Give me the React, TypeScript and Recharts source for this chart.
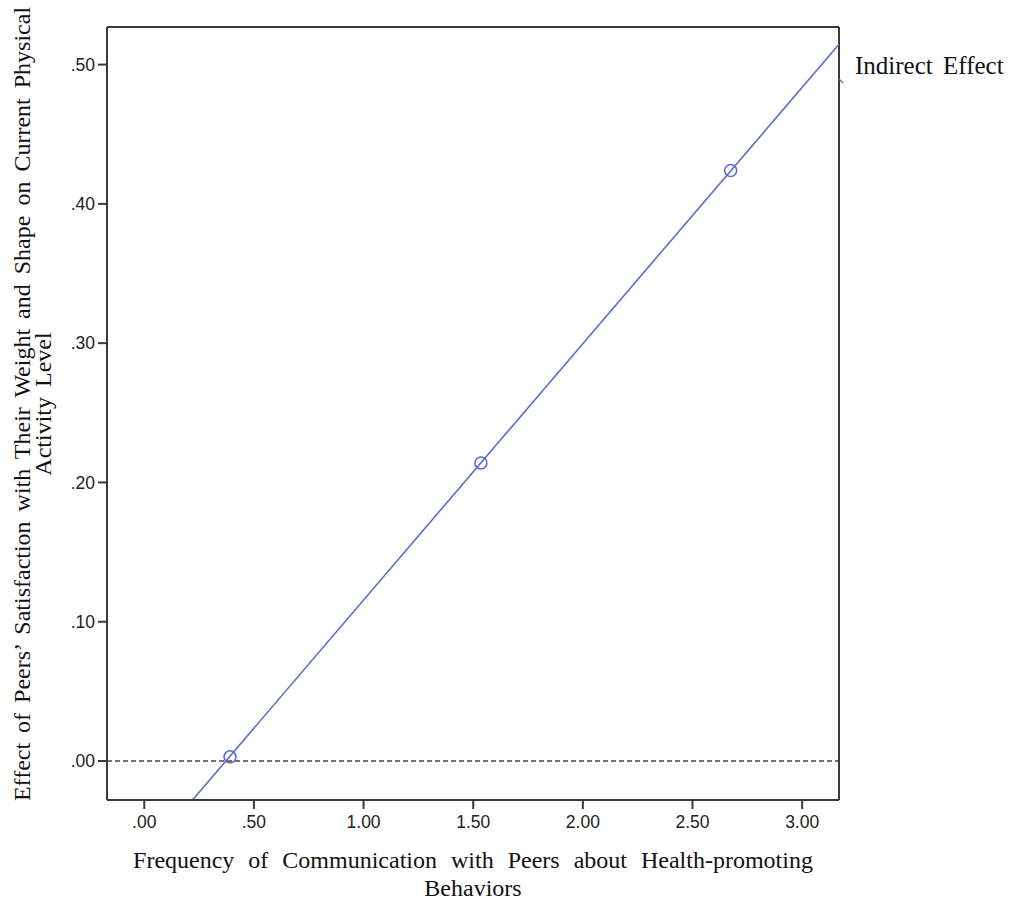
import {
  ComposedChart,
  Line,
  Scatter,
  XAxis,
  YAxis,
  ReferenceLine,
  Label,
} from "recharts";

// regression line endpoints, read where it leaves the frame
const lineX = [0.22, 3.17];
const lineY = [-0.028, 0.515];

// circled points on the line
const pointX = [0.391, 1.535, 2.674];
const pointY = [0.003, 0.214, 0.424];

const xTicks = [0, 0.5, 1, 1.5, 2, 2.5, 3];
const yTicks = [0, 0.1, 0.2, 0.3, 0.4, 0.5];

const xTitle = ["Frequency of Communication with Peers about Health-promoting", "Behaviors"];
const yTitle = ["Effect of Peers\u2019 Satisfaction with Their Weight and Shape on Current Physical", "Activity Level"];
const seriesName = "Indirect Effect";

const lineData = lineX.map((x, i) => ({ x, y: lineY[i] }));
const pointData = pointX.map((x, i) => ({ x, y: pointY[i] }));

const X_DOMAIN = [-0.17, 3.168];
const Y_DOMAIN = [-0.028, 0.527];

const BLUE = "#5a6fc6";
const AXIS = "#3a3a3a";
const SERIF = "'Liberation Serif', 'Times New Roman', serif";

const fmt = (v: number) => {
  const s = v.toFixed(2);
  return s.startsWith("0") ? s.slice(1) : s;
};

const tickStyle = { fill: "#222", fontSize: 17.5, fontFamily: "'Liberation Sans', Arial, sans-serif" };

function XTitle(props: any) {
  const { viewBox } = props;
  const cx = viewBox.x + viewBox.width / 2;
  return (
    <text textAnchor="middle" fontFamily={SERIF} fontSize={24} fill="#111" wordSpacing={8}>
      <tspan x={cx} y={868}>{xTitle[0]}</tspan>
      <tspan x={cx} y={896}>{xTitle[1]}</tspan>
    </text>
  );
}

function YTitle() {
  return (
    <text
      transform="translate(30, 404) rotate(-90)"
      textAnchor="middle"
      fontFamily={SERIF}
      fontSize={24}
      fill="#111"
      wordSpacing={4}
    >
      <tspan x={0} y={0}>{yTitle[0]}</tspan>
      <tspan x={0} y={21}>{yTitle[1]}</tspan>
    </text>
  );
}

export default function App() {
  return (
    <div style={{ position: "absolute", left: 0, top: 0, width: 1009, height: 902, background: "#fff" }}>
      <ComposedChart
        width={1009}
        height={902}
        margin={{ top: 27, right: 170, left: 47, bottom: 72 }}
      >
        <XAxis
          type="number"
          dataKey="x"
          domain={X_DOMAIN}
          ticks={xTicks}
          tickFormatter={fmt}
          allowDataOverflow
          height={30}
          tick={tickStyle}
          tickSize={9}
          tickMargin={7}
          stroke={AXIS}
          strokeWidth={2}
        >
          <Label content={<XTitle />} />
        </XAxis>
        <YAxis
          type="number"
          dataKey="y"
          domain={Y_DOMAIN}
          ticks={yTicks}
          tickFormatter={fmt}
          allowDataOverflow
          width={60}
          tick={tickStyle}
          tickSize={9}
          tickMargin={3}
          stroke={AXIS}
          strokeWidth={2}
        >
          <Label content={<YTitle />} />
        </YAxis>
        {/* top and right sides of the frame */}
        <ReferenceLine y={Y_DOMAIN[1]} stroke={AXIS} strokeWidth={2} />
        <ReferenceLine x={X_DOMAIN[1]} stroke={AXIS} strokeWidth={2} />
        <ReferenceLine y={0} stroke="#444" strokeWidth={1.5} strokeDasharray="5 3" />
        <Line
          data={lineData}
          dataKey="y"
          type="linear"
          stroke={BLUE}
          strokeWidth={1.6}
          dot={false}
          activeDot={false}
          isAnimationActive={false}
          legendType="none"
        />
        <Scatter
          data={pointData}
          dataKey="y"
          fill="none"
          stroke={BLUE}
          strokeWidth={1.6}
          shape={(p: any) => (
            <circle cx={p.cx} cy={p.cy} r={6} fill="none" stroke={BLUE} strokeWidth={1.6} />
          )}
          isAnimationActive={false}
          legendType="none"
        />
      </ComposedChart>
      {/* legend */}
      <svg width={8} height={8} style={{ position: "absolute", left: 838, top: 78 }}>
        <line x1={1} y1={1} x2={5} y2={5} stroke={BLUE} strokeWidth={1.5} />
      </svg>
      <span
        style={{
          position: "absolute",
          left: 855,
          top: 51,
          fontFamily: SERIF,
          fontSize: 25,
          lineHeight: "30px",
          color: "#111",
          wordSpacing: 4,
          whiteSpace: "nowrap",
        }}
      >
        {seriesName}
      </span>
    </div>
  );
}
